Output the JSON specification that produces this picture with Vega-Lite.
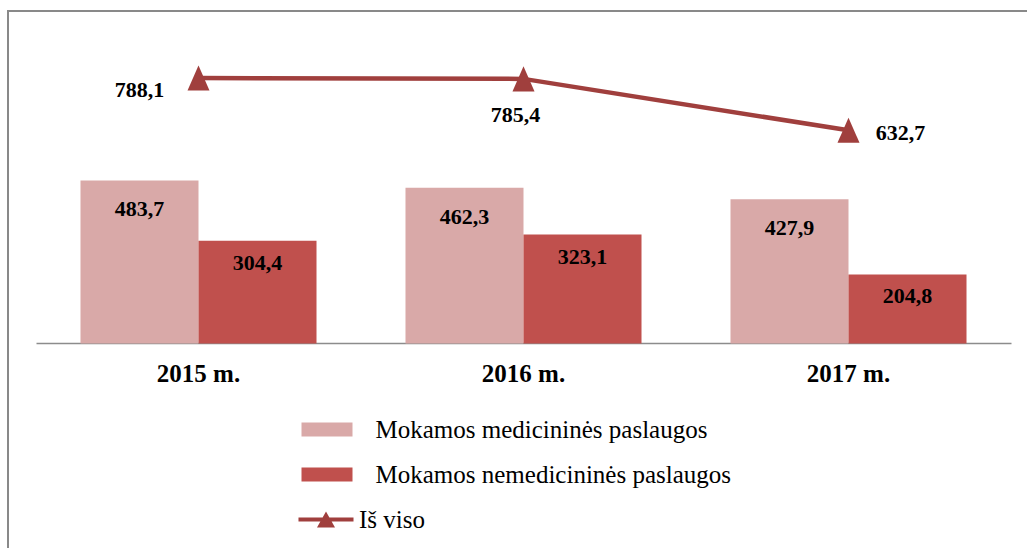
{
  "$schema": "https://vega.github.io/schema/vega-lite/v6.json",
  "width": 1040,
  "height": 557,
  "autosize": {"type": "none"},
  "padding": {"left": 8, "top": 11, "right": 0, "bottom": 0},
  "background": "white",
  "config": {
    "view": {"stroke": "#898989", "strokeWidth": 2},
    "font": "Liberation Serif",
    "locale": {"number": {"decimal": ",", "thousands": " ", "grouping": [3], "currency": ["", ""]}}
  },
  "datasets": {
    "bars": [
      {"year": "2015 m.", "series": "Mokamos medicininės paslaugos", "value": 483.7},
      {"year": "2015 m.", "series": "Mokamos nemedicininės paslaugos", "value": 304.4},
      {"year": "2016 m.", "series": "Mokamos medicininės paslaugos", "value": 462.3},
      {"year": "2016 m.", "series": "Mokamos nemedicininės paslaugos", "value": 323.1},
      {"year": "2017 m.", "series": "Mokamos medicininės paslaugos", "value": 427.9},
      {"year": "2017 m.", "series": "Mokamos nemedicininės paslaugos", "value": 204.8}
    ],
    "totals": [
      {"year": "2015 m.", "series": "Iš viso", "value": 788.1},
      {"year": "2016 m.", "series": "Iš viso", "value": 785.4},
      {"year": "2017 m.", "series": "Iš viso", "value": 632.7}
    ]
  },
  "encoding": {
    "x": {
      "field": "year",
      "type": "nominal",
      "sort": null,
      "scale": {"type": "band", "range": [28, 1003], "paddingInner": 0, "paddingOuter": 0},
      "axis": {
        "orient": "bottom",
        "offset": -225,
        "title": null,
        "ticks": false,
        "grid": false,
        "domainColor": "#8c8c8c",
        "domainWidth": 1.5,
        "labelFont": "Liberation Serif",
        "labelFontSize": 25,
        "labelFontWeight": "bold",
        "labelColor": "#000000",
        "labelPadding": 18,
        "labelAngle": 0,
        "labelBaseline": "top"
      }
    },
    "y": {
      "field": "value",
      "type": "quantitative",
      "scale": {"domain": [-667, 987], "nice": false, "zero": false},
      "axis": null
    }
  },
  "layer": [
    {
      "data": {"name": "bars"},
      "mark": {"type": "bar"},
      "encoding": {
        "xOffset": {
          "field": "series",
          "type": "nominal",
          "sort": null,
          "scale": {"paddingInner": 0, "paddingOuter": 0.377}
        },
        "y2": {"datum": 0},
        "color": {
          "field": "series",
          "type": "nominal",
          "sort": null,
          "scale": {
            "domain": ["Mokamos medicininės paslaugos", "Mokamos nemedicininės paslaugos"],
            "range": ["#d9a9a8", "#c0504d"]
          },
          "legend": {
            "orient": "none",
            "legendX": 306.5,
            "legendY": 406,
            "title": null,
            "padding": 0,
            "symbolType": "M-3.643,-1H3.643V1H-3.643Z",
            "symbolSize": 196,
            "symbolStrokeWidth": 0,
            "symbolOpacity": 1,
            "labelOffset": 36,
            "rowPadding": 19,
            "labelFont": "Liberation Serif",
            "labelFontSize": 25,
            "labelColor": "#000000",
            "labelLimit": 0
          }
        }
      }
    },
    {
      "data": {"name": "bars"},
      "transform": [{"filter": "datum.series == 'Mokamos medicininės paslaugos'"}],
      "mark": {"type": "text", "baseline": "middle", "align": "center", "dy": 29, "fontSize": 22, "fontWeight": "bold", "font": "Liberation Serif", "color": "#000000"},
      "encoding": {
        "xOffset": {"field": "series", "type": "nominal", "sort": null},
        "text": {"field": "value", "type": "quantitative", "format": ".1f"}
      }
    },
    {
      "data": {"name": "bars"},
      "transform": [{"filter": "datum.series == 'Mokamos nemedicininės paslaugos'"}],
      "mark": {"type": "text", "baseline": "middle", "align": "center", "dy": 22, "fontSize": 22, "fontWeight": "bold", "font": "Liberation Serif", "color": "#000000"},
      "encoding": {
        "xOffset": {"field": "series", "type": "nominal", "sort": null},
        "text": {"field": "value", "type": "quantitative", "format": ".1f"}
      }
    },
    {
      "data": {"name": "totals"},
      "mark": {"type": "line", "strokeWidth": 4.5},
      "encoding": {
        "stroke": {
          "field": "series",
          "type": "nominal",
          "scale": {"range": ["#a03f3d"]},
          "legend": {
            "orient": "none",
            "legendX": 305.5,
            "legendY": 496,
            "title": null,
            "padding": 0,
            "symbolType": "M-3.93,-0.3H3.93V0.3H-3.93Z M-1.286,1.14L0,-1.14L1.286,1.14Z",
            "symbolSize": 196,
            "symbolStrokeWidth": 0,
            "symbolFillColor": "#a03f3d",
            "labelOffset": 20.5,
            "labelFont": "Liberation Serif",
            "labelFontSize": 25,
            "labelColor": "#000000",
            "labelLimit": 0,
            "encode": {"symbols": {"update": {"fill": {"value": "#a03f3d"}, "strokeWidth": {"value": 0}, "opacity": {"value": 1}}}}
          }
        }
      }
    },
    {
      "data": {"name": "totals"},
      "mark": {"type": "point", "filled": true, "shape": "M0,-1.14L-1,1.14L1,1.14Z", "size": 484, "color": "#a03f3d", "opacity": 1}
    },
    {
      "data": {"name": "totals"},
      "transform": [{"filter": "datum.year == '2015 m.'"}],
      "mark": {"type": "text", "baseline": "middle", "align": "center", "dx": -59, "dy": 12, "fontSize": 22, "fontWeight": "bold", "font": "Liberation Serif", "color": "#000000"},
      "encoding": {"text": {"field": "value", "type": "quantitative", "format": ".1f"}}
    },
    {
      "data": {"name": "totals"},
      "transform": [{"filter": "datum.year == '2016 m.'"}],
      "mark": {"type": "text", "baseline": "middle", "align": "center", "dx": -8, "dy": 36, "fontSize": 22, "fontWeight": "bold", "font": "Liberation Serif", "color": "#000000"},
      "encoding": {"text": {"field": "value", "type": "quantitative", "format": ".1f"}}
    },
    {
      "data": {"name": "totals"},
      "transform": [{"filter": "datum.year == '2017 m.'"}],
      "mark": {"type": "text", "baseline": "middle", "align": "center", "dx": 52, "dy": 3, "fontSize": 22, "fontWeight": "bold", "font": "Liberation Serif", "color": "#000000"},
      "encoding": {"text": {"field": "value", "type": "quantitative", "format": ".1f"}}
    }
  ]
}
